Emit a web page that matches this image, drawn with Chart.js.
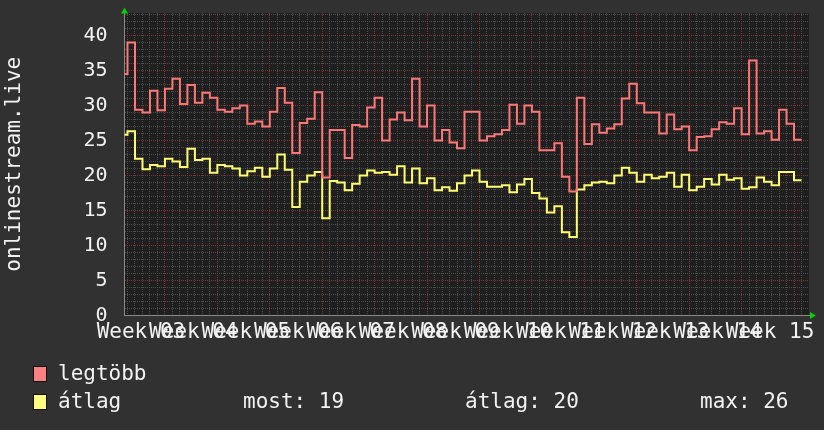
<!DOCTYPE html>
<html><head><meta charset="utf-8">
<script src="https://cdn.jsdelivr.net/npm/chart.js@4.4.1/dist/chart.umd.min.js"></script>
<style>
html,body{margin:0;padding:0;background:#313131;}
#wrap{position:relative;width:824px;height:430px;overflow:hidden;background:#313131;}
canvas{position:absolute;left:0;top:0;}
.lg{position:absolute;font-family:"DejaVu Sans Mono",monospace;font-size:21px;color:#f2f2f2;line-height:21px;white-space:pre;}
.box{position:absolute;width:12px;height:14px;border:1px solid #111;}
</style></head><body>
<div id="wrap">
<canvas id="c" width="824" height="430"></canvas>
<div class="box" style="left:33px;top:366px;background:#ff8080"></div>
<div class="lg" id="l1" style="left:58px;top:363px"></div>
<div class="box" style="left:33px;top:394px;background:#ffff80"></div>
<div class="lg" id="l2" style="left:58px;top:391px"></div>
<div class="lg" id="s1" style="left:243px;top:391px"></div>
<div class="lg" id="s2" style="left:465px;top:391px"></div>
<div class="lg" id="s3" style="left:700px;top:391px"></div>
</div>
<script>
// ---- data (one value per day; first value is the partially visible day) ----
const seriesNames = ['legtöbb', 'átlag'];
const weekLabels = ['Week 03','Week 04','Week 05','Week 06','Week 07','Week 08','Week 09','Week 10','Week 11','Week 12','Week 13','Week 14','Week 15'];
const maxValues = [34.5,
 39.0,29.4,29.0,32.1,29.3,32.4,33.8,30.2,32.9,30.4,
 31.8,31.1,29.4,29.1,29.6,30.0,27.4,27.7,27.0,29.1,
 32.5,30.4,23.2,27.5,28.1,31.9,19.7,26.5,26.5,22.5,
 27.2,27.0,29.7,31.1,25.0,28.0,29.0,27.9,33.8,27.0,
 30.0,25.0,26.5,24.7,23.9,29.1,29.1,25.0,25.6,25.9,
 26.5,30.1,27.4,30.0,29.1,23.6,23.6,24.6,19.8,17.7,
 31.1,24.5,27.3,26.1,26.7,27.3,31.0,33.1,30.3,29.0,
 29.0,26.0,28.7,26.6,27.0,23.6,25.5,25.6,26.6,27.6,
 27.4,29.6,25.9,36.4,26.0,26.3,25.1,29.4,27.4,25.1];
const avgValues = [25.8,
 26.3,22.4,20.9,21.5,21.3,22.4,22.0,21.2,23.8,22.2,
 22.4,20.4,21.5,21.3,21.0,20.0,20.6,21.1,19.8,21.0,
 23.0,20.8,15.5,19.1,20.0,20.5,13.9,19.2,19.0,17.9,
 18.8,20.0,20.7,20.4,20.5,20.1,21.3,19.0,21.0,18.9,
 19.6,17.9,18.3,17.8,18.9,20.0,20.7,19.1,18.4,18.4,
 18.6,17.6,18.7,19.5,17.5,16.7,14.7,15.6,11.9,11.2,
 18.0,18.6,19.0,19.1,18.9,20.0,21.1,20.4,19.1,20.1,
 19.6,19.8,20.4,18.4,20.1,17.9,18.4,19.5,18.7,20.1,
 19.4,19.6,18.1,18.3,19.7,19.1,18.6,20.5,20.5,19.3];
const statLabels = ['most', 'átlag', 'max'];
const statValues = [19, 20, 26];

// ---- helpers ----
const FONT = '"DejaVu Sans Mono", monospace';
const TXT = '#f2f2f2';
const MINOR = '#4c4c4c';
const MAJOR = '#7a3636';
const FIRST_DAY = -1;           // day index of the first (partial) value
const WEEK_OFFSET = 5;          // first week boundary (day index)
function toPoints(vals){
  const pts = vals.map((v,i)=>({x: FIRST_DAY + i, y: v}));
  pts.push({x: FIRST_DAY + vals.length, y: vals[vals.length-1]});
  return pts;
}
const isWeek = d => d >= WEEK_OFFSET && (d - WEEK_OFFSET) % 7 === 0;

document.getElementById('l1').textContent = seriesNames[0];
document.getElementById('l2').textContent = seriesNames[1];
document.getElementById('s1').textContent = statLabels[0] + ': ' + statValues[0];
document.getElementById('s2').textContent = statLabels[1] + ': ' + statValues[1];
document.getElementById('s3').textContent = statLabels[2] + ': ' + statValues[2];

const bgPlugin = {
  id: 'bg',
  beforeDraw(chart){
    const {ctx, chartArea:a} = chart;
    ctx.save();
    ctx.fillStyle = '#1f1f1f';
    ctx.fillRect(a.left, a.top, a.right - a.left, a.bottom - a.top);
    ctx.restore();
  },
  afterDraw(chart){
    const {ctx, chartArea:a} = chart;
    ctx.save();
    ctx.fillStyle = '#00d000';
    ctx.beginPath();
    ctx.moveTo(a.left - 3.5, a.top + 0.5);
    ctx.lineTo(a.left + 3.5, a.top + 0.5);
    ctx.lineTo(a.left, a.top - 5.5);
    ctx.closePath(); ctx.fill();
    ctx.beginPath();
    ctx.moveTo(a.right + 1, a.bottom - 3.5);
    ctx.lineTo(a.right + 1, a.bottom + 3.5);
    ctx.lineTo(a.right + 7, a.bottom);
    ctx.closePath(); ctx.fill();
    ctx.restore();
  }
};

new Chart(document.getElementById('c'), {
  type: 'line',
  data: {
    datasets: [
      {label: seriesNames[0], data: toPoints(maxValues), borderColor: '#ff7777', borderWidth: 2, pointRadius: 0, stepped: true, fill: false},
      {label: seriesNames[1], data: toPoints(avgValues), borderColor: '#ffff70', borderWidth: 2, pointRadius: 0, stepped: true, fill: false}
    ]
  },
  options: {
    responsive: false, animation: false, devicePixelRatio: 1,
    layout: {padding: {left: 0, right: 15, top: 13, bottom: 84.5}},
    plugins: {legend: {display: false}, tooltip: {enabled: false}},
    scales: {
      x: {
        type: 'linear', min: -0.4, max: 91.0,
        afterBuildTicks: s => { const t = []; for (let d = 0; d <= 90; d++) t.push({value: d}); s.ticks = t; },
        afterFit: s => { s.height = 30; s.paddingLeft = 0; s.paddingRight = 0; },
        grid: {color: c => (c.tick && isWeek(c.tick.value)) ? MAJOR : MINOR, lineWidth: 1, drawTicks: false},
        border: {display: true, color: '#8a8a8a', width: 1, dash: [1,1]},
        ticks: {
          autoSkip: false, maxRotation: 0, minRotation: 0, labelOffset: -24, padding: 4,
          color: TXT, font: {family: FONT, size: 21},
          callback: v => isWeek(v) ? weekLabels[(v - WEEK_OFFSET) / 7] : ''
        }
      },
      y: {
        min: 0, max: 43.2,
        afterBuildTicks: s => { const t = []; for (let v = 0; v <= 43; v++) t.push({value: v}); s.ticks = t; },
        afterFit: s => { s.width = 124.5; s.paddingTop = 0; s.paddingBottom = 0; },
        grid: {color: c => (c.tick && c.tick.value % 5 === 0) ? MAJOR : MINOR, lineWidth: 1, drawTicks: false},
        border: {display: true, color: '#8a8a8a', width: 1, dash: [1,1]},
        ticks: {autoSkip: false, padding: 17, color: TXT, font: {family: FONT, size: 20},
          callback: v => v % 5 === 0 ? String(v) : ''},
        title: {display: true, text: 'onlinestream.live', color: TXT, font: {family: FONT, size: 21}, padding: {top: 2, bottom: 0}}
      }
    }
  },
  plugins: [bgPlugin]
});
</script>
</body></html>
